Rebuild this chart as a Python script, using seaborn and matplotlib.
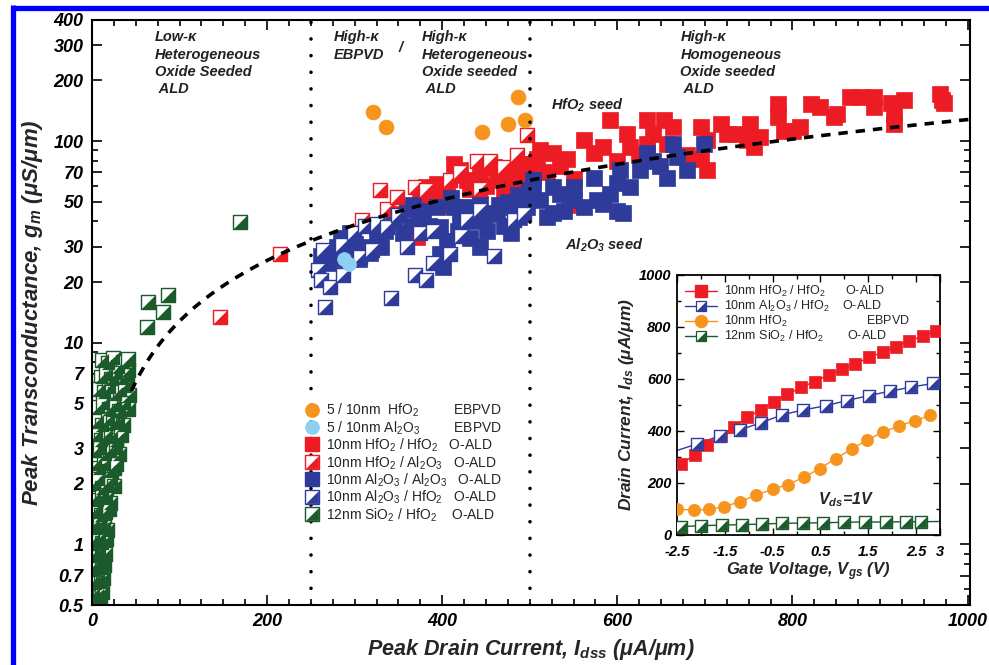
import numpy as np
import pandas as pd
import matplotlib
matplotlib.use("Agg")
import matplotlib.pyplot as plt
import seaborn as sns
from matplotlib.lines import Line2D
from matplotlib.ticker import FixedLocator, FixedFormatter, MultipleLocator, NullFormatter

sns.set_theme(style="ticks")
plt.rcParams['font.family'] = ['Liberation Sans', 'DejaVu Sans']
plt.rcParams['mathtext.default'] = 'regular'

# ---------------- main chart data (Idss uA/um, gm uS/um) ----------------
ebpvd_hfo2_x = [321, 336, 445, 475, 486, 494]
ebpvd_hfo2_y = [139, 117, 111, 122, 166, 128]

ebpvd_al2o3_x = [293, 288]
ebpvd_al2o3_y = [24.7, 26.0]

hfo2_hfo2_x = [344, 352, 371, 375, 375, 382, 388, 394, 398, 405, 413, 416, 420, 428, 432, 436, 443,
               446, 450, 459, 462, 466, 470, 476, 481, 484, 490, 497, 504, 497, 508, 512, 527, 520,
               535, 542, 545, 550, 562, 573, 584, 592, 600, 611, 615, 625, 634, 634, 641, 653, 657,
               664, 680, 695, 695, 702, 702, 718, 725, 737, 748, 752, 756, 763, 783, 783, 790, 801,
               809, 821, 832, 847, 851, 866, 878, 893, 893, 912, 916, 916, 927, 969, 971, 973]
hfo2_hfo2_y = [40.5, 43.7, 33.4, 50.8, 40.5, 59, 52, 61.5, 48, 55, 77, 68, 71.7, 64, 58, 62, 69,
               75, 60, 74.5, 64, 70, 55, 66, 59, 72, 70, 77, 77, 66, 82, 90, 87, 70,
               75, 82, 48, 65, 101, 87, 94, 127, 80, 109, 94, 85, 127, 97, 109, 127, 97,
               118, 85, 118, 82, 72, 101, 122, 109, 109, 101, 122, 94, 105, 153, 132, 112, 112,
               118, 153, 148, 132, 137, 166, 166, 166, 148, 154, 137, 122, 160, 172, 160, 154]

hfo2_al2o3_x = [146, 215, 308, 329, 337, 348, 369, 382, 409, 420, 440, 443, 455, 470, 485, 497]
hfo2_al2o3_y = [13.4, 27.5, 40.5, 57, 46, 53, 59, 57, 64, 70, 80, 58, 80, 74.5, 85, 107]

al2o3_al2o3_x = [262, 270, 276, 280, 284, 288, 295, 300, 305, 312, 318, 325, 330, 335, 345, 355, 360,
                 364, 367, 372, 378, 385, 394, 398, 398, 401, 405, 410, 413, 418, 420, 428, 432, 435,
                 443, 443, 448, 451, 455, 462, 465, 470, 475, 478, 481, 486, 488, 492, 494, 499, 504,
                 497, 504, 512, 520, 527, 527, 535, 539, 550, 550, 562, 573, 577, 584, 592, 600, 600,
                 603, 607, 615, 626, 634, 641, 649, 657, 664, 668, 680, 699]
al2o3_al2o3_y = [27, 25, 26, 30, 33, 28, 35, 31, 26, 30, 28, 33, 30, 36, 41, 35, 46,
                 38, 48, 40, 45, 38, 47, 37.5, 27.7, 23.7, 32, 52, 47, 36, 42, 47, 33, 40,
                 49, 30, 41, 36, 44, 43.7, 48, 38, 50, 35, 47, 54, 42, 46, 53, 57, 64,
                 47, 59, 51, 42, 59, 44, 55, 45, 51, 59, 47, 66, 51, 49, 55, 45, 62,
                 72, 44, 59, 72, 87, 80, 75, 66, 97, 83, 72, 97]

al2o3_hfo2_x = [258, 262, 264, 266, 272, 285, 287, 299, 306, 312, 320, 325, 337, 342, 350, 360, 369,
                375, 382, 390, 390, 409, 422, 428, 443, 459, 482, 493]
al2o3_hfo2_y = [23, 20.4, 28.7, 15, 19, 30.4, 21.6, 35, 26.6, 38, 28.7, 39, 37.5, 16.6, 43, 30, 21.6,
                35, 20.4, 25, 36, 27.7, 34, 40.5, 45.4, 27, 40.5, 43.7]

# SiO2/HfO2: isolated devices and the dense low-current cluster
sio2_hfo2_x = [169, 64, 87, 81.5, 62.5, 41.5]
sio2_hfo2_y = [39.5, 15.9, 17.2, 14.2, 12.0, 8.3]
sio2_cluster_x = [12, 18, 24, 30, 36, 41,
                  10, 16, 22, 28, 34, 40,
                  8, 14, 20, 26, 32, 38, 42,
                  7, 13, 19, 25, 31, 37, 41,
                  6, 12, 18, 24, 30, 35,
                  5, 10, 16, 22, 28, 33,
                  4, 9, 15, 21, 27, 31,
                  3, 8, 14, 19, 25, 28,
                  2, 7, 12, 17, 22, 25,
                  2, 6, 11, 16, 21,
                  1, 5, 10, 15, 19,
                  1, 5, 9, 14, 17,
                  1, 4, 8, 12, 16,
                  1, 4, 8, 12, 15,
                  1, 4, 7, 11, 14,
                  1, 3, 7, 10, 13,
                  1, 3, 6, 9, 11,
                  2, 5, 8]
sio2_cluster_y = [8.2, 7.9, 8.4, 7.6, 8.0, 7.3,
                  6.8, 7.0, 6.6, 7.1, 6.7, 6.9,
                  5.9, 5.7, 6.0, 5.6, 5.8, 6.1, 5.5,
                  4.8, 5.0, 4.7, 4.9, 4.6, 5.0, 4.7,
                  4.1, 3.9, 4.2, 4.0, 4.1, 3.9,
                  3.5, 3.3, 3.5, 3.4, 3.3, 3.5,
                  2.9, 3.0, 2.8, 2.9, 3.0, 2.8,
                  2.5, 2.4, 2.5, 2.3, 2.4, 2.5,
                  2.0, 2.1, 1.9, 2.0, 2.1, 1.95,
                  1.7, 1.65, 1.75, 1.7, 1.6,
                  1.45, 1.5, 1.4, 1.45, 1.5,
                  1.25, 1.2, 1.28, 1.22, 1.18,
                  1.05, 1.0, 1.08, 1.02, 1.06,
                  0.9, 0.88, 0.92, 0.86, 0.9,
                  0.78, 0.75, 0.8, 0.76, 0.79,
                  0.66, 0.64, 0.67, 0.65, 0.68,
                  0.57, 0.54, 0.56, 0.55, 0.58,
                  0.51, 0.52, 0.51]

FIT_SLOPE = 0.128          # dashed trend: gm = k * Idss
FIT_RANGE = (45, 1003)

# ---------------- inset data (Vgs V, Ids uA/um) ----------------
in_red_x = [-2.42, -2.13, -1.87, -1.58, -1.31, -1.03, -0.75, -0.48, -0.19, 0.10, 0.38, 0.67, 0.95,
            1.23, 1.52, 1.80, 2.08, 2.35, 2.64, 2.92]
in_red_y = [273, 308, 346, 381, 417, 453, 481, 513, 541, 568, 590, 615, 637, 658, 683, 703, 724,
            746, 765, 785]
in_blue_x = [-2.08, -1.61, -1.19, -0.74, -0.30, 0.14, 0.61, 1.05, 1.51, 1.95, 2.40, 2.86]
in_blue_y = [350, 381, 404, 432, 462, 481, 497, 517, 536, 553, 569, 583]
in_blue_line_x = [-2.5, -2.08, -1.61, -1.19, -0.74, -0.30, 0.14, 0.61, 1.05, 1.51, 1.95, 2.40, 2.86, 3.0]
in_blue_line_y = [325, 350, 381, 404, 432, 462, 481, 497, 517, 536, 553, 569, 583, 586]
in_orange_x = [-2.5, -2.15, -1.83, -1.51, -1.19, -0.85, -0.50, -0.18, 0.15, 0.48, 0.82, 1.16, 1.47,
               1.81, 2.14, 2.47, 2.80]
in_orange_y = [99, 96, 99, 109, 128, 153, 176, 194, 222, 255, 294, 331, 365, 396, 419, 440, 460]
in_green_x = [-2.42, -1.99, -1.56, -1.15, -0.72, -0.30, 0.13, 0.56, 1.00, 1.43, 1.86, 2.29, 2.60]
in_green_y = [32, 36, 38, 40, 42, 45, 46, 47, 49, 50, 50, 51, 51]
in_green_line_x = [-2.5, -2.42, -1.99, -1.56, -1.15, -0.72, -0.30, 0.13, 0.56, 1.00, 1.43, 1.86, 2.29, 2.60, 3.0]
in_green_line_y = [30, 32, 36, 38, 40, 42, 45, 46, 47, 49, 50, 50, 51, 51, 52]

y_ticks = [0.5, 0.7, 1, 2, 3, 5, 7, 10, 20, 30, 50, 70, 100, 200, 300, 400]
y_ticklabels = ['0.5', '0.7', '1', '2', '3', '5', '7', '10', '20', '30', '50', '70', '100', '200', '300', '400']
x_ticks = [0, 200, 400, 600, 800, 1000]

# ---------------- styles ----------------
RED = '#ED1C24'
BLUE = '#2E3B9A'
GREEN = '#1B5A2A'
ORANGE = '#F7941E'
LBLUE = '#8ECFF2'
TRI = [(-1, -1), (1, -1), (1, 1), (-1, -1)]

fig = plt.figure(figsize=(9.89, 6.65), dpi=100)
fig.patch.set_facecolor('white')
ax = fig.add_axes([0.093, 0.0902, 0.888, 0.880])
ax.set_facecolor('white')

S = 100


def solid(axx, x, y, color, s, z, marker='s'):
    sns.scatterplot(x=x, y=y, ax=axx, marker=marker, s=s, color=color, edgecolor=color,
                    linewidth=0.5, zorder=z, legend=False)


def half(axx, x, y, color, s, z):
    for xi, yi in zip(x, y):
        sns.scatterplot(x=[xi], y=[yi], ax=axx, marker='s', s=s, color=color, facecolor='white',
                        edgecolor=color, linewidth=1.0, zorder=z, legend=False)
        sns.scatterplot(x=[xi], y=[yi], ax=axx, marker=TRI, s=s * 0.92, color=color,
                        linewidth=0, zorder=z, legend=False)


def half_batch(axx, x, y, color, s, z):
    sns.scatterplot(x=x, y=y, ax=axx, marker='s', s=s, color=color, facecolor='white',
                    edgecolor=color, linewidth=1.0, zorder=z, legend=False)
    sns.scatterplot(x=x, y=y, ax=axx, marker=TRI, s=s * 0.92, color=color,
                    linewidth=0, zorder=z, legend=False)


solid(ax, hfo2_hfo2_x, hfo2_hfo2_y, RED, S * 1.35, 2)
solid(ax, al2o3_al2o3_x, al2o3_al2o3_y, BLUE, S * 1.3, 2.1)
half(ax, hfo2_al2o3_x, hfo2_al2o3_y, RED, S, 2.2)
half(ax, al2o3_hfo2_x, al2o3_hfo2_y, BLUE, S, 2.3)
half_batch(ax, sio2_cluster_x, sio2_cluster_y, GREEN, S, 2.4)
half(ax, sio2_hfo2_x, sio2_hfo2_y, GREEN, S, 2.45)
solid(ax, ebpvd_hfo2_x, ebpvd_hfo2_y, ORANGE, S * 1.15, 2.5, marker='o')
solid(ax, ebpvd_al2o3_x, ebpvd_al2o3_y, LBLUE, S, 2.6, marker='o')

# trend line
fx = np.linspace(FIT_RANGE[0], FIT_RANGE[1], 200)
sns.lineplot(x=fx, y=FIT_SLOPE * fx, ax=ax, color='black', lw=2.6, linestyle=(0, (2.6, 2.2)),
             zorder=3, legend=False)
for xv in [250, 500]:
    ax.axvline(xv, color='black', lw=2.6, linestyle=(0, (0.01, 4.6)), dash_capstyle='round', zorder=3)

ax.set_yscale('log')
ax.set_xlim(0, 1003)
ax.set_ylim(0.5, 400)
ax.yaxis.set_major_locator(FixedLocator(y_ticks))
ax.yaxis.set_major_formatter(FixedFormatter(y_ticklabels))
ax.yaxis.set_minor_locator(FixedLocator([0.6, 0.8, 0.9, 4, 6, 8, 9, 40, 60, 80, 90]))
ax.yaxis.set_minor_formatter(NullFormatter())
ax.xaxis.set_major_locator(FixedLocator(x_ticks))
ax.xaxis.set_minor_locator(MultipleLocator(25))
ax.tick_params(which='both', direction='in', top=True, right=True, width=1.2, colors='black',
               labelsize=13, pad=6)
ax.tick_params(which='major', length=7)
ax.tick_params(which='minor', length=4)
for lab in ax.get_xticklabels() + ax.get_yticklabels():
    lab.set_fontweight('bold')
    lab.set_fontstyle('italic')
for sp in ax.spines.values():
    sp.set_visible(True)
    sp.set_color('black')
    sp.set_linewidth(1.5)

ax.set_xlabel('Peak Drain Current, I$_{dss}$ (μA/μm)', fontsize=15.5, fontweight='bold',
              fontstyle='italic', labelpad=5)
ax.set_ylabel('Peak Transconductance, g$_m$ (μS/μm)', fontsize=16, fontweight='bold',
              fontstyle='italic', labelpad=6)

annot = dict(fontsize=10.5, fontweight='bold', fontstyle='italic', va='top', ha='left',
             linespacing=1.3, color='#222222')
ax.text(72, 355, 'Low-κ\nHeterogeneous\nOxide Seeded\n ALD', **annot)
ax.text(276, 355, 'High-κ\nEBPVD', **annot)
ax.text(350, 315, '/', **annot)
ax.text(377, 355, 'High-κ\nHeterogeneous\nOxide seeded\n ALD', **annot)
ax.text(672, 355, 'High-κ\nHomogeneous\nOxide seeded\n ALD', **annot)
ax.text(524, 166, 'HfO$_2$ seed', **annot)
ax.text(540, 33.5, 'Al$_2$O$_3$ seed', **annot)

# main legend
MS = 9.6


def hh(color):
    a = Line2D([], [], ls='none', marker='s', ms=MS, mfc='white', mec=color, mew=1.0)
    b = Line2D([], [], ls='none', marker=TRI, ms=MS * 0.96, mfc=color, mec=color, mew=0)
    return (a, b)


handles = [
    Line2D([], [], ls='none', marker='o', ms=MS, mfc=ORANGE, mec=ORANGE),
    Line2D([], [], ls='none', marker='o', ms=MS, mfc=LBLUE, mec=LBLUE),
    Line2D([], [], ls='none', marker='s', ms=MS, mfc=RED, mec=RED),
    hh(RED),
    Line2D([], [], ls='none', marker='s', ms=MS, mfc=BLUE, mec=BLUE),
    hh(BLUE),
    hh(GREEN),
]
labels = [
    '5 / 10nm  HfO$_2$         EBPVD',
    '5 / 10nm Al$_2$O$_3$         EBPVD',
    '10nm HfO$_2$ / HfO$_2$   O-ALD',
    '10nm HfO$_2$ / Al$_2$O$_3$   O-ALD',
    '10nm Al$_2$O$_3$ / Al$_2$O$_3$   O-ALD',
    '10nm Al$_2$O$_3$ / HfO$_2$   O-ALD',
    '12nm SiO$_2$ / HfO$_2$    O-ALD',
]
leg = ax.legend(handles, labels, loc='upper left', bbox_to_anchor=(0.243, 0.347), frameon=False,
                fontsize=10, handlelength=1.0, handleheight=0.9, handletextpad=0.5,
                labelspacing=0.0, borderpad=0, borderaxespad=0)
leg.set_zorder(5)

# ---------------- inset ----------------
ins = fig.add_axes([0.6845, 0.1955, 0.266, 0.391])
ins.set_facecolor('white')
IS = 78
sns.lineplot(x=in_red_x, y=in_red_y, ax=ins, color=RED, lw=1.0, zorder=2, legend=False)
solid(ins, in_red_x, in_red_y, RED, IS, 3)
sns.lineplot(x=in_blue_line_x, y=in_blue_line_y, ax=ins, color=BLUE, lw=1.0, zorder=2, legend=False)
half(ins, in_blue_x, in_blue_y, BLUE, IS * 0.85, 3)
sns.lineplot(x=in_orange_x, y=in_orange_y, ax=ins, color=ORANGE, lw=1.0, zorder=2, legend=False)
solid(ins, in_orange_x, in_orange_y, ORANGE, IS, 3, marker='o')
sns.lineplot(x=in_green_line_x, y=in_green_line_y, ax=ins, color=GREEN, lw=1.0, zorder=2, legend=False)
half(ins, in_green_x, in_green_y, GREEN, IS * 0.85, 3)

ins.set_xlim(-2.5, 3)
ins.set_ylim(0, 1000)
ins.xaxis.set_major_locator(FixedLocator([-2.5, -1.5, -0.5, 0.5, 1.5, 2.5, 3]))
ins.xaxis.set_major_formatter(FixedFormatter(['-2.5', '-1.5', '-0.5', '0.5', '1.5', '2.5', '3']))
ins.yaxis.set_major_locator(FixedLocator([0, 200, 400, 600, 800, 1000]))
ins.yaxis.set_minor_locator(MultipleLocator(100))
ins.xaxis.set_minor_locator(MultipleLocator(0.5))
ins.tick_params(which='both', direction='in', top=True, right=True, width=1.0, colors='black',
                labelsize=10.5, pad=4)
ins.tick_params(axis='x', pad=7)
ins.tick_params(which='major', length=5)
ins.tick_params(which='minor', length=3)
for lab in ins.get_xticklabels() + ins.get_yticklabels():
    lab.set_fontweight('bold')
    lab.set_fontstyle('italic')
for sp in ins.spines.values():
    sp.set_visible(True)
    sp.set_color('black')
    sp.set_linewidth(1.3)
ins.set_xlabel('Gate Voltage, V$_{gs}$ (V)', fontsize=12, fontweight='bold', fontstyle='italic',
               labelpad=1)
ins.set_ylabel('Drain Current, I$_{ds}$ (μA/μm)', fontsize=12.5, fontweight='bold',
               fontstyle='italic', labelpad=2)
ins.text(0.535, 0.135, 'V$_{ds}$=1V', transform=ins.transAxes, fontsize=11.5, fontweight='bold',
         fontstyle='italic', va='center', ha='left')

IMS = 8.6


def ihh(color):
    a = Line2D([], [], color=color, lw=1.0, marker='s', ms=IMS * 0.92, mfc='white', mec=color, mew=0.9)
    b = Line2D([], [], ls='none', marker=TRI, ms=IMS * 0.88, mfc=color, mec=color, mew=0)
    return (a, b)


ihandles = [
    Line2D([], [], color=RED, lw=1.0, marker='s', ms=IMS, mfc=RED, mec=RED),
    ihh(BLUE),
    Line2D([], [], color=ORANGE, lw=1.0, marker='o', ms=IMS, mfc=ORANGE, mec=ORANGE),
    ihh(GREEN),
]
ilabels = [
    '10nm HfO$_2$ / HfO$_2$      O-ALD',
    '10nm Al$_2$O$_3$ / HfO$_2$    O-ALD',
    '10nm HfO$_2$                       EBPVD',
    '12nm SiO$_2$ / HfO$_2$       O-ALD',
]
ins.legend(ihandles, ilabels, loc='upper left', bbox_to_anchor=(0.03, 0.965), frameon=False,
           fontsize=9, handlelength=2.6, handleheight=0.8, handletextpad=0.5, labelspacing=0.0,
           borderpad=0, borderaxespad=0)

# blue frame around the figure
W, H = 989.0, 665.0
fig.add_artist(Line2D([12.5 / W, 1.0], [1 - 7.5 / H, 1 - 7.5 / H], transform=fig.transFigure,
                      color='#0000FF', lw=3.8, solid_capstyle='butt'))
fig.add_artist(Line2D([12.5 / W, 12.5 / W], [0, 1 - 5.0 / H], transform=fig.transFigure,
                      color='#0000FF', lw=3.8, solid_capstyle='butt'))

fig.savefig('out.png', dpi=100)
